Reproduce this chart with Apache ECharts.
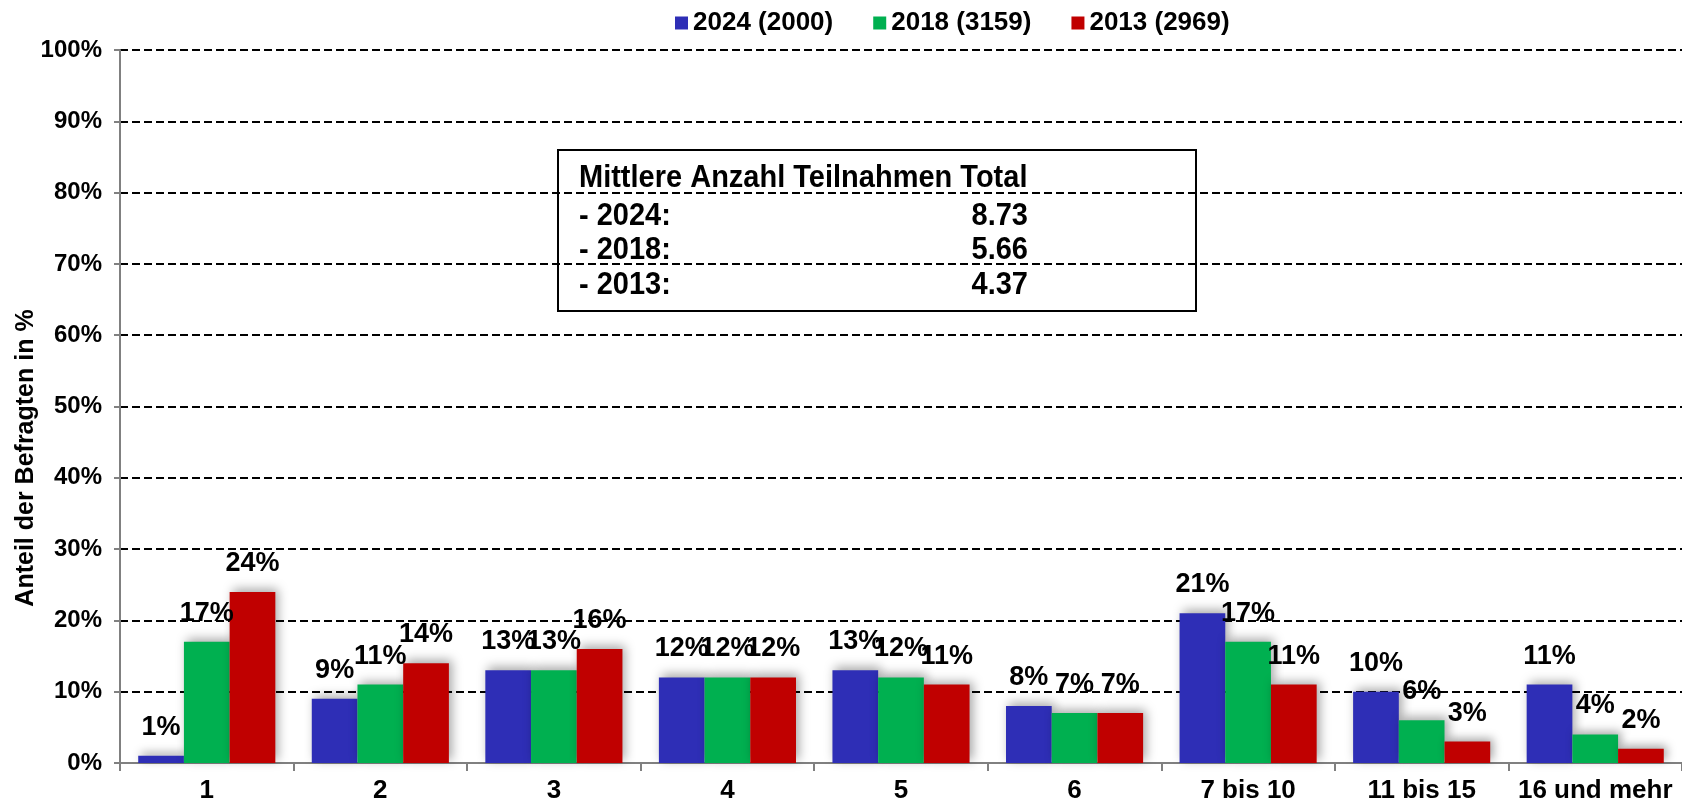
<!DOCTYPE html>
<html>
<head>
<meta charset="utf-8">
<title>Teilnahmen</title>
<script src="https://cdn.jsdelivr.net/npm/echarts@6/dist/echarts.min.js"></script>
<style>
  html, body { margin: 0; padding: 0; background: #fff; }
  #chart { width: 1682px; height: 807px; }
</style>
</head>
<body>
<div id="chart"></div>
<script>
// Kategorien (Anzahl Teilnahmen)
var categories = ['1', '2', '3', '4', '5', '6', '7 bis 10', '11 bis 15', '16 und mehr'];
var seriesNames = ['2024 (2000)', '2018 (3159)', '2013 (2969)'];
var values2024 = [1, 9, 13, 12, 13, 8, 21, 10, 11];
var values2018 = [17, 11, 13, 12, 12, 7, 17, 6, 4];
var values2013 = [24, 14, 16, 12, 11, 7, 11, 3, 2];
var yTicks = [0, 10, 20, 30, 40, 50, 60, 70, 80, 90, 100];
var boxTitle = 'Mittlere Anzahl Teilnahmen Total';
var boxRows = ['- 2024:', '- 2018:', '- 2013:'];
var boxValues = ['8.73', '5.66', '4.37'];

var colors = ['#2E2EB6', '#00B050', '#C00000'];
var font = "'Liberation Sans', Arial, sans-serif";

var myChart = echarts.init(document.getElementById('chart'));

function barSeries(name, data, color) {
    return {
        name: name,
        type: 'bar',
        data: data,
        barGap: '0%',
        barCategoryGap: '21%',
        itemStyle: {
            color: color,
            shadowColor: 'rgba(0,0,0,0.35)',
            shadowBlur: 10,
            shadowOffsetX: 3,
            shadowOffsetY: -3
        },
        label: {
            show: true,
            position: 'top',
            distance: 15,
            formatter: '{c}%',
            color: '#000',
            fontSize: 27,
            fontWeight: 'bold',
            fontFamily: font
        }
    };
}

// Infobox mit Mittelwerten
var boxChildren = [{
    type: 'rect',
    shape: { x: 0, y: 0, width: 638, height: 161 },
    style: { fill: '#fff', stroke: '#000', lineWidth: 2 }
}, {
    type: 'text',
    x: 21, y: 28,
    scaleY: 1.1,
    style: { text: boxTitle, fill: '#000', font: 'bold 29px ' + font, textVerticalAlign: 'middle' }
}];
boxRows.forEach(function (r, i) {
    boxChildren.push({
        type: 'text',
        x: 21, y: 66 + i * 34.5,
        scaleY: 1.1,
        style: { text: r, fill: '#000', font: 'bold 29px ' + font, textVerticalAlign: 'middle' }
    });
    boxChildren.push({
        type: 'text',
        x: 470, y: 66 + i * 34.5,
        scaleY: 1.1,
        style: { text: boxValues[i], fill: '#000', font: 'bold 29px ' + font, textAlign: 'right', textVerticalAlign: 'middle' }
    });
});

myChart.setOption({
    animation: false,
    color: colors,
    textStyle: { fontFamily: font },
    legend: {
        data: seriesNames,
        left: 670,
        top: 5,
        icon: 'rect',
        itemWidth: 13,
        itemHeight: 13,
        itemGap: 40,
        textStyle: { fontSize: 26, fontWeight: 'bold', color: '#000', fontFamily: font }
    },
    grid: { left: 120, top: 50, bottom: 44, width: 1572, containLabel: false },
    xAxis: {
        type: 'category',
        data: categories,
        axisLine: { lineStyle: { color: '#808080', width: 2 } },
        axisTick: { show: true, interval: 0, length: 8, lineStyle: { color: '#808080', width: 2 } },
        axisLabel: { interval: 0, color: '#000', fontSize: 26, fontWeight: 'bold', margin: 15, fontFamily: font }
    },
    yAxis: {
        type: 'value',
        min: yTicks[0],
        max: yTicks[yTicks.length - 1],
        interval: 10,
        axisLine: { show: true, lineStyle: { color: '#808080', width: 2 } },
        axisTick: { show: true, length: 6, lineStyle: { color: '#808080', width: 2 } },
        axisLabel: { color: '#000', fontSize: 24, fontWeight: 'bold', margin: 18, formatter: '{value}%', fontFamily: font },
        splitLine: { show: true, showMinLine: false, lineStyle: { color: '#000', width: 2, type: [8, 4] } }
    },
    graphic: [{
        type: 'text',
        x: 26, y: 458,
        rotation: Math.PI / 2,
        style: {
            text: 'Anteil der Befragten in %',
            fill: '#000',
            font: 'bold 25px ' + font,
            textAlign: 'center',
            textVerticalAlign: 'middle'
        }
    }, {
        type: 'group',
        x: 558, y: 150,
        z: 100,
        children: boxChildren
    }],
    series: [
        barSeries(seriesNames[0], values2024, colors[0]),
        barSeries(seriesNames[1], values2018, colors[1]),
        barSeries(seriesNames[2], values2013, colors[2])
    ]
});
</script>
</body>
</html>
